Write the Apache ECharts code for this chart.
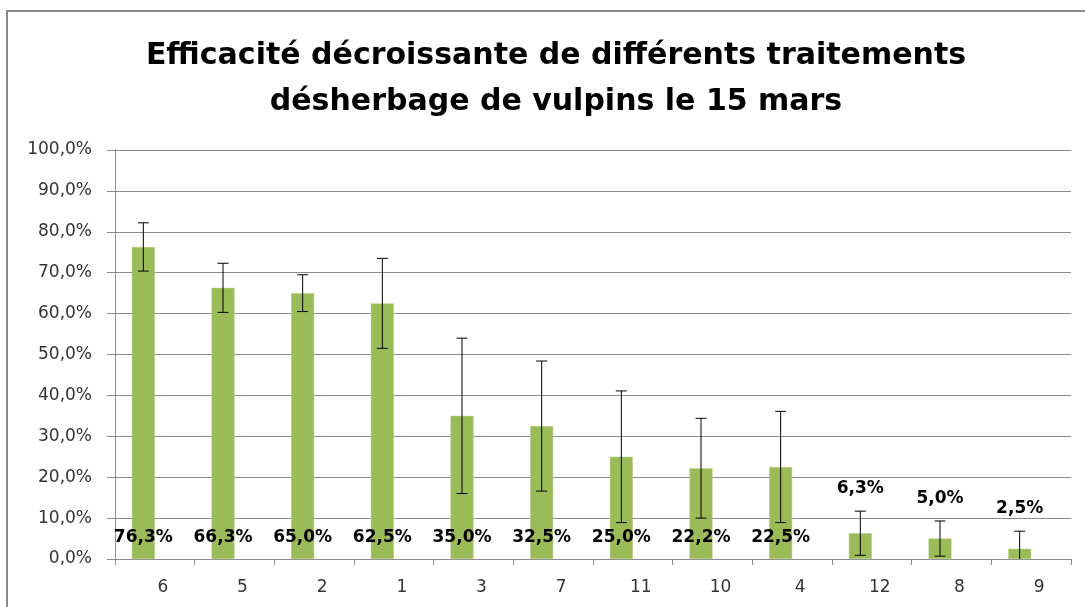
<!DOCTYPE html>
<html>
<head>
<meta charset="utf-8">
<script src="https://cdn.jsdelivr.net/npm/echarts@6/dist/echarts.min.js"></script>
<style>
html,body{margin:0;padding:0;background:#fff;}
#chart{width:1085px;height:607px;}
</style>
</head>
<body>
<div id="chart"></div>
<script>
const titleLines = ['Efficacité décroissante de différents traitements', 'désherbage de vulpins le 15 mars'];
const categories = ['6', '5', '2', '1', '3', '7', '11', '10', '4', '12', '8', '9'];
const values = [76.3, 66.3, 65.0, 62.5, 35.0, 32.5, 25.0, 22.2, 22.5, 6.3, 5.0, 2.5];
const errors = [5.9, 6.0, 4.5, 11.0, 19.0, 15.9, 16.1, 12.2, 13.6, 5.4, 4.3, 4.3];

const fmt = v => v.toFixed(1).replace('.', ',') + '%';
const SMALL = 10;
const BAR_W = 23;

const chart = echarts.init(document.getElementById('chart'));
const gridColor = '#8c8c8c';

chart.setOption({
  animation: false,
  backgroundColor: '#fff',
  title: {
    text: titleLines.join('\n'),
    left: 551,
    textAlign: 'center',
    top: 28,
    textStyle: {
      fontFamily: 'DejaVu Sans',
      fontWeight: 'bold',
      fontSize: 30,
      lineHeight: 46,
      color: '#000'
    }
  },
  graphic: [{
    type: 'rect',
    shape: { x: 7, y: 11, width: 1200, height: 800 },
    style: { fill: 'none', stroke: '#8a8a8a', lineWidth: 2 },
    silent: true,
    z: 0
  }],
  grid: { left: 115, right: 14, top: 150, bottom: 48, containLabel: false },
  xAxis: {
    type: 'category',
    data: categories,
    boundaryGap: true,
    axisLine: { lineStyle: { color: gridColor, width: 1 } },
    axisTick: { show: true, length: 6, lineStyle: { color: gridColor } },
    axisLabel: { margin: 20, padding: [0, 0, 0, 16], fontFamily: 'DejaVu Sans', fontSize: 17, color: '#333' }
  },
  yAxis: {
    type: 'value',
    min: 0, max: 100, interval: 10,
    axisLine: { show: true, lineStyle: { color: gridColor, width: 1 } },
    axisTick: { show: true, length: 8, lineStyle: { color: gridColor } },
    splitLine: { lineStyle: { color: gridColor, width: 1 } },
    axisLabel: { margin: 23, fontFamily: 'DejaVu Sans', fontSize: 17, color: '#333', formatter: v => fmt(v) }
  },
  series: [{
    type: 'bar',
    data: values.map(v => ({
      value: v,
      label: { show: v >= SMALL }
    })),
    barWidth: BAR_W,
    barGap: 0,
    itemStyle: { color: '#9BBB59', borderColor: '#b7cf86', borderWidth: 0.5 },
    label: {
      show: true,
      position: 'insideBottom',
      distance: 13,
      fontFamily: 'DejaVu Sans',
      fontWeight: 'bold',
      fontSize: 17,
      color: '#000',
      formatter: p => fmt(p.value)
    },
    z: 2
  }, {
    type: 'bar',
    data: [],
    barWidth: BAR_W,
    barGap: 0,
    silent: true
  }, {
    type: 'custom',
    data: values.map((v, i) => [i, v, errors[i]]),
    clip: true,
    z: 5,
    renderItem: (params, api) => {
      const i = api.value(0), v = api.value(1), e = api.value(2);
      const dx = -BAR_W / 2;
      const top = api.coord([i, v + e]);
      const bot = api.coord([i, Math.max(v - e, -5)]);
      const x = top[0] + dx;
      const cw = 5.5;
      const children = [
        { type: 'line', shape: { x1: x, y1: top[1], x2: x, y2: bot[1] }, style: { stroke: '#000', lineWidth: 1 } },
        { type: 'line', shape: { x1: x - cw, y1: top[1], x2: x + cw, y2: top[1] }, style: { stroke: '#000', lineWidth: 1 } }
      ];
      if (v - e >= 0) {
        children.push({ type: 'line', shape: { x1: x - cw, y1: bot[1], x2: x + cw, y2: bot[1] }, style: { stroke: '#000', lineWidth: 1 } });
      }
      if (v < SMALL) {
        children.push({
          type: 'text',
          style: {
            x: x, y: top[1] - 14,
            text: fmt(v),
            textAlign: 'center', textVerticalAlign: 'bottom',
            fontFamily: 'DejaVu Sans', fontWeight: 'bold', fontSize: 17, fill: '#000'
          }
        });
      }
      return { type: 'group', children };
    }
  }]
});
</script>
</body>
</html>
